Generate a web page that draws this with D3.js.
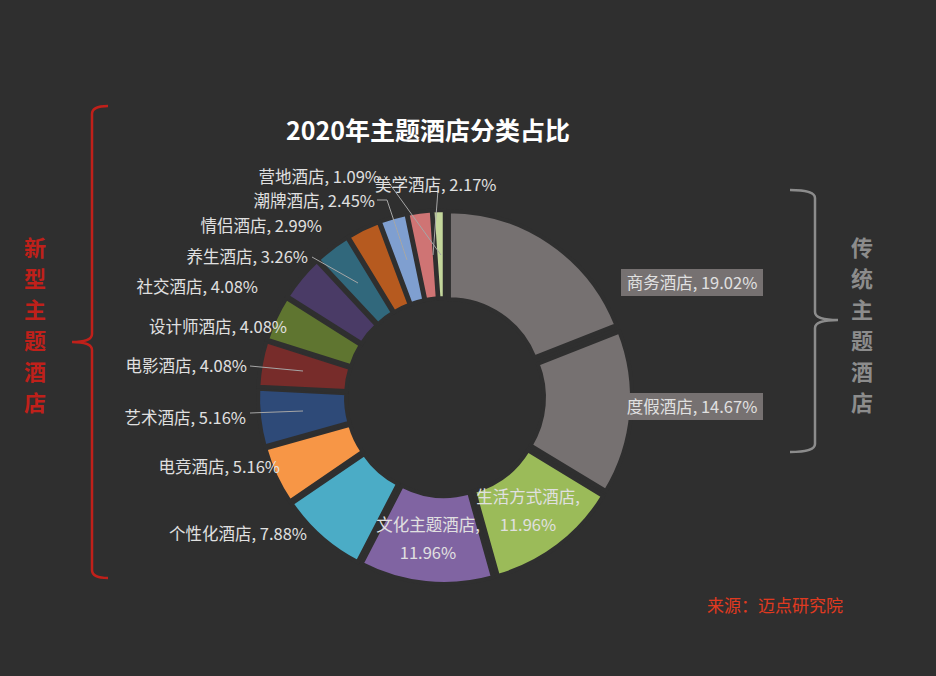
<!DOCTYPE html>
<html><head><meta charset="utf-8">
<script src="https://cdn.jsdelivr.net/npm/d3@7"></script>
<style>body{margin:0;background:#2f2f2f}svg{display:block}text{font-family:"Noto Sans CJK SC","Noto Sans",sans-serif}</style>
</head><body><svg id="c"></svg>
<script>
const categories = ["商务酒店","度假酒店","生活方式酒店","文化主题酒店","个性化酒店","电竞酒店","艺术酒店","电影酒店","设计师酒店","社交酒店","养生酒店","情侣酒店","潮牌酒店","美学酒店","营地酒店"];
const shares = [19.02,14.67,11.96,11.96,7.88,5.16,5.16,4.08,4.08,4.08,3.26,2.99,2.45,2.17,1.09];
const colors = ["#767171","#767171","#9bbb59","#8064a2","#4bacc6","#f79646","#2e4a78","#772c2a","#5f7530","#4a3b66","#31687c","#b65a1f","#7f9fd0","#cf7474","#c3d69b"];

// label placement: [x, y, anchor, second line y or null]
const labelPos = [
  [692,289,"middle"],[692,413,"middle"],[528,503,"middle",531],[428,531,"middle",559],
  [307,540,"end"],[280,473,"end"],[246,424,"end"],[247,372,"end"],[287,333,"end"],
  [258,293,"end"],[308,263,"end"],[322,232,"end"],[375,207,"end"],[375,191,"start"],[380,183,"end"]
];
const leaders = {7:[[250,366],[303,371]],6:[[250,413],[303,411]],10:[[312,257],[358,283]],
  12:[[377,200],[387,200],[407,260]],13:[[438,190],[433,255]],14:[[384,176],[441,255]]};

const W=936,H=676,cx=445,cy=397;
const svg=d3.select("#c").attr("width",W).attr("height",H);
svg.append("rect").attr("width",W).attr("height",H).attr("fill","#2f2f2f");

const data=categories.map((c,i)=>({name:c,value:shares[i],i}));
const pie=d3.pie().value(d=>d.value).sort(null);
const arc=d3.arc().innerRadius(92).outerRadius(180);
const g=svg.append("g").attr("transform",`translate(${cx},${cy})`);
g.selectAll("path").data(pie(data)).join("path")
  .attr("d",arc).attr("fill",d=>colors[d.data.i])
  .attr("stroke","#2f2f2f").attr("stroke-width",4)
  .attr("transform",d=>{const a=(d.startAngle+d.endAngle)/2;return `translate(${Math.sin(a)*7},${-Math.cos(a)*7})`;});

Object.entries(leaders).forEach(([k,pts])=>{
  svg.append("path").attr("d",d3.line()(pts)).attr("fill","none").attr("stroke","#a6a6a6").attr("stroke-width",1);
});

// labelled background boxes
[0,1].forEach(i=>{
  svg.append("rect").attr("x",621).attr("y",labelPos[i][1]-20).attr("width",142).attr("height",27).attr("fill","#767171");
});

data.forEach((d,i)=>{
  const p=labelPos[i];
  const t=svg.append("text").attr("x",p[0]).attr("y",p[1]).attr("text-anchor",p[2])
    .attr("fill","#e0e0e0").attr("font-size",16.5);
  if(p[3]){
    t.text(d.name+",");
    svg.append("text").attr("x",p[0]).attr("y",p[3]).attr("text-anchor","middle")
      .attr("fill","#e0e0e0").attr("font-size",16.5).text(d.value.toFixed(2)+"%");
  } else t.text(`${d.name}, ${d.value.toFixed(2)}%`);
});

svg.append("text").attr("x",428).attr("y",140).attr("text-anchor","middle").attr("fill","#fff")
  .attr("font-size",25).attr("font-weight","bold").text("2020年主题酒店分类占比");

// braces
svg.append("path").attr("d","M108,106 Q92,106 92,114 L92,334 Q92,342 72,342 Q92,342 92,350 L92,570 Q92,578 108,578")
  .attr("fill","none").attr("stroke","#c0201a").attr("stroke-width",2.5);
svg.append("path").attr("d","M790,190 Q815,190 815,198 L815,312 Q815,320 838,320 Q815,320 815,328 L815,444 Q815,452 790,452")
  .attr("fill","none").attr("stroke","#8c8c8c").attr("stroke-width",2.5);

const vert=(txt,x,y0,col)=>txt.split("").forEach((ch,j)=>svg.append("text").attr("x",x).attr("y",y0+j*31)
  .attr("text-anchor","middle").attr("fill",col).attr("font-size",22).attr("font-weight","bold").text(ch));
vert("新型主题酒店",35,256,"#c0201a");
vert("传统主题酒店",862,256,"#8c8c8c");

svg.append("text").attr("x",775).attr("y",612).attr("text-anchor","middle").attr("fill","#e03a20")
  .attr("font-size",17).text("来源：迈点研究院");
</script></body></html>
